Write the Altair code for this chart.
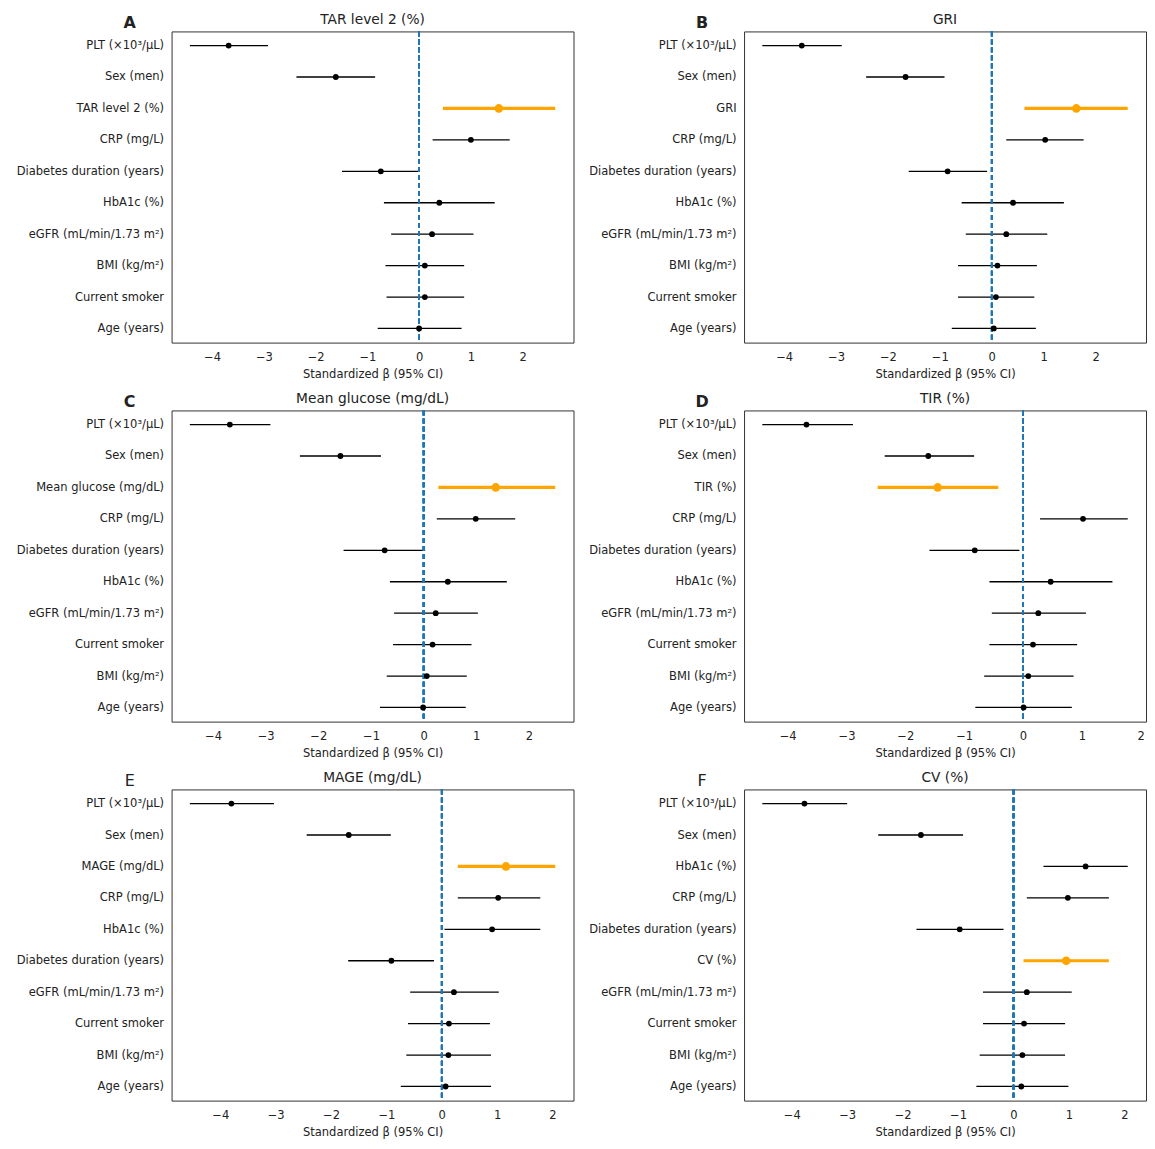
import altair as alt
import pandas as pd

PLT = "PLT (×10³/μL)"
SEX = "Sex (men)"
CRP = "CRP (mg/L)"
DUR = "Diabetes duration (years)"
HBA = "HbA1c (%)"
EGFR = "eGFR (mL/min/1.73 m²)"
BMI = "BMI (kg/m²)"
SMK = "Current smoker"
AGE = "Age (years)"

letters = ["A", "B", "C", "D", "E", "F"]
outcomes = ["TAR level 2 (%)", "GRI", "Mean glucose (mg/dL)", "TIR (%)", "MAGE (mg/dL)", "CV (%)"]

a_labels = [PLT, SEX, "TAR level 2 (%)", CRP, DUR, HBA, EGFR, BMI, SMK, AGE]
a_est = [-3.68, -1.61, 1.54, 1.00, -0.74, 0.39, 0.25, 0.11, 0.11, 0.00]
a_lo = [-4.43, -2.37, 0.46, 0.26, -1.49, -0.68, -0.54, -0.65, -0.63, -0.80]
a_hi = [-2.92, -0.85, 2.63, 1.75, -0.02, 1.46, 1.05, 0.87, 0.87, 0.82]

b_labels = [PLT, SEX, "GRI", CRP, DUR, HBA, EGFR, BMI, SMK, AGE]
b_est = [-3.66, -1.66, 1.63, 1.03, -0.85, 0.41, 0.28, 0.11, 0.08, 0.04]
b_lo = [-4.42, -2.42, 0.63, 0.28, -1.60, -0.58, -0.50, -0.65, -0.65, -0.77]
b_hi = [-2.89, -0.91, 2.62, 1.77, -0.09, 1.39, 1.07, 0.87, 0.82, 0.85]

c_labels = [PLT, SEX, "Mean glucose (mg/dL)", CRP, DUR, HBA, EGFR, SMK, BMI, AGE]
c_est = [-3.68, -1.58, 1.37, 0.99, -0.74, 0.46, 0.23, 0.17, 0.06, -0.01]
c_lo = [-4.44, -2.35, 0.28, 0.25, -1.52, -0.64, -0.56, -0.58, -0.70, -0.83]
c_hi = [-2.91, -0.81, 2.50, 1.74, 0.03, 1.58, 1.03, 0.91, 0.82, 0.80]

d_labels = [PLT, SEX, "TIR (%)", CRP, DUR, HBA, EGFR, SMK, BMI, AGE]
d_est = [-3.68, -1.61, -1.45, 1.02, -0.82, 0.47, 0.26, 0.17, 0.09, 0.01]
d_lo = [-4.43, -2.35, -2.47, 0.29, -1.59, -0.57, -0.53, -0.57, -0.66, -0.81]
d_hi = [-2.89, -0.83, -0.42, 1.78, -0.06, 1.52, 1.07, 0.92, 0.86, 0.83]

e_labels = [PLT, SEX, "MAGE (mg/dL)", CRP, HBA, DUR, EGFR, SMK, BMI, AGE]
e_est = [-3.80, -1.68, 1.16, 1.02, 0.91, -0.91, 0.22, 0.13, 0.12, 0.07]
e_lo = [-4.55, -2.44, 0.29, 0.29, 0.05, -1.69, -0.57, -0.61, -0.64, -0.74]
e_hi = [-3.03, -0.92, 2.05, 1.78, 1.78, -0.14, 1.03, 0.87, 0.89, 0.89]

f_labels = [PLT, SEX, HBA, CRP, DUR, "CV (%)", EGFR, SMK, BMI, AGE]
f_est = [-3.77, -1.67, 1.30, 0.98, -0.97, 0.95, 0.24, 0.19, 0.16, 0.14]
f_lo = [-4.53, -2.44, 0.54, 0.24, -1.75, 0.18, -0.55, -0.55, -0.61, -0.67]
f_hi = [-3.00, -0.91, 2.06, 1.72, -0.18, 1.72, 1.05, 0.93, 0.93, 0.99]

x_ticks = [-4, -3, -2, -1, 0, 1, 2]

FONT = "DejaVu Sans"
ORANGE = "#FFA500"
BLUE = "#1f77b4"
TXT = "#222"
W, H = 403, 312
LFS = 11.55


def panel(letter, outcome, labels, est, lo, hi, bold):
    df = pd.DataFrame({"label": labels, "est": est, "lo": lo, "hi": hi})
    df["hl"] = df["label"] == outcome
    xmin, xmax = min(lo), max(hi)
    m = 0.05 * (xmax - xmin)
    xs = alt.Scale(domain=[xmin - m, xmax + m], nice=False, zero=False)
    ys = alt.Scale(type="point", domain=labels, padding=0.45)
    yenc = alt.Y("label:N", scale=ys, sort=labels,
                 axis=alt.Axis(title=None, ticks=False, domain=False, grid=False, labelPadding=8,
                               labelFontSize=LFS, labelColor=TXT, labelFont=FONT))
    xaxis = alt.Axis(values=x_ticks, ticks=False, domain=False, grid=False, labelPadding=9,
                     labelFontSize=LFS, labelColor=TXT, labelFont=FONT,
                     labelExpr="datum.value < 0 ? '\u2212' + format(-datum.value, 'd') : format(datum.value, 'd')",
                     title="Standardized β (95% CI)", titleFontSize=LFS, titleFontWeight="normal",
                     titleFont=FONT, titleColor=TXT, titlePadding=5)
    base = alt.Chart(df)
    zero = base.mark_rule(color=BLUE, strokeDash=[5, 3], strokeWidth=1.6).encode(
        x=alt.datum(0, scale=xs))
    bars = base.mark_rule().encode(
        x=alt.X("lo:Q", scale=xs, axis=xaxis),
        x2="hi:Q",
        y=yenc,
        color=alt.condition("datum.hl", alt.value(ORANGE), alt.value("black")),
        strokeWidth=alt.condition("datum.hl", alt.value(3.2), alt.value(1.3)),
    )
    pts = base.mark_circle(opacity=1).encode(
        x=alt.X("est:Q", scale=xs, axis=xaxis),
        y=yenc,
        color=alt.condition("datum.hl", alt.value(ORANGE), alt.value("black")),
        size=alt.condition("datum.hl", alt.value(75), alt.value(34)),
    )
    tdf = pd.DataFrame({"letter": [letter], "title": [outcome]})
    lt = alt.Chart(tdf).mark_text(
        font=FONT, fontSize=16, fontWeight="bold" if bold else "normal", color=TXT,
        baseline="middle", align="center").encode(
        text="letter:N", x=alt.value(-42), y=alt.value(-8))
    tt = alt.Chart(tdf).mark_text(
        font=FONT, fontSize=13.8, fontWeight="normal", color=TXT,
        baseline="middle", align="center").encode(
        text="title:N", x=alt.value(W / 2), y=alt.value(-11))
    return alt.layer(bars, zero, pts, lt, tt).properties(width=W, height=H)


pA = panel("A", outcomes[0], a_labels, a_est, a_lo, a_hi, True)
pB = panel("B", outcomes[1], b_labels, b_est, b_lo, b_hi, True)
pC = panel("C", outcomes[2], c_labels, c_est, c_lo, c_hi, True)
pD = panel("D", outcomes[3], d_labels, d_est, d_lo, d_hi, True)
pE = panel("E", outcomes[4], e_labels, e_est, e_lo, e_hi, False)
pF = panel("F", outcomes[5], f_labels, f_est, f_lo, f_hi, False)

chart = alt.vconcat(
    alt.hconcat(pA, pB, spacing=13),
    alt.hconcat(pC, pD, spacing=13),
    alt.hconcat(pE, pF, spacing=13),
    spacing=11,
).properties(
    padding={"left": 7, "top": 3, "right": 0, "bottom": 0},
    background="white",
).configure_view(
    stroke="#333", strokeWidth=1
).configure_axis(grid=False)

chart.save("out.html", embed_options={"renderer": "svg", "actions": False})
